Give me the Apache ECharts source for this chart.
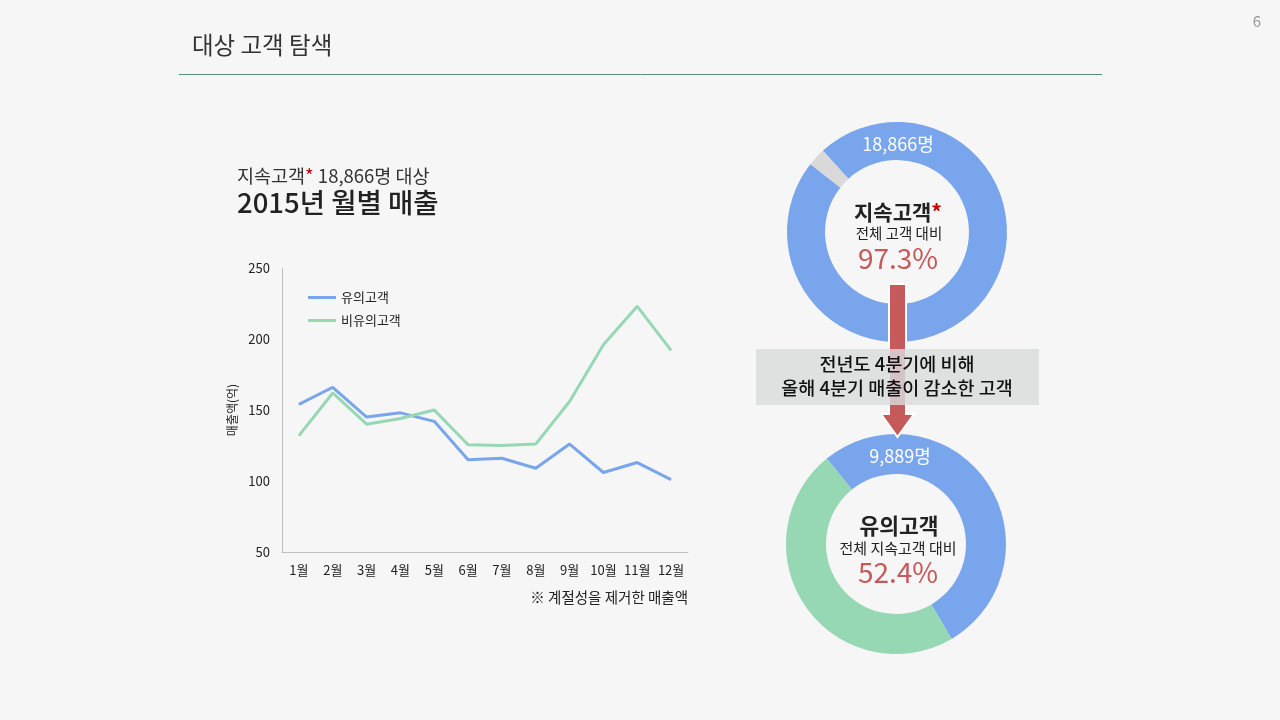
<!DOCTYPE html>
<html>
<head>
<meta charset="utf-8">
<script src="https://cdn.jsdelivr.net/npm/echarts@6/dist/echarts.min.js"></script>
<style>
html,body{margin:0;padding:0;background:#f6f6f6;}
#c{width:1280px;height:720px;}
</style>
</head>
<body>
<div id="c"></div>
<script>
var FONT = '"Noto Sans CJK KR", "Noto Sans", sans-serif';
var months = ['1월','2월','3월','4월','5월','6월','7월','8월','9월','10월','11월','12월'];
var significantSales = [154, 166, 145, 148, 142, 115, 116, 109, 126, 106, 113, 101];
var nonSignificantSales = [132, 162, 140, 144, 150, 125.5, 125, 126, 156, 196, 223, 192];
var seriesNames = ['유의고객', '비유의고객'];
var yTicks = {min: 50, max: 250, interval: 50};
var retainedShare = [{name: '이탈', value: 2.7}, {name: '지속고객', value: 97.3}];
var significantShare = [{name: '유의고객', value: 52.4}, {name: '비유의고객', value: 47.6}];
var retainedCount = '18,866명';
var significantCount = '9,889명';

var chart = echarts.init(document.getElementById('c'));
var red = '#c55a5a';
var blue = '#78a5eb';
var green = '#96d7b4';

function centerText(x, y, str, size, weight, color) {
  return {type: 'text', x: x, y: y, z: 50, style: {text: str, font: weight + ' ' + size + 'px ' + FONT, fill: color, align: 'center', verticalAlign: 'middle'}};
}

chart.setOption({
  backgroundColor: '#f6f6f6',
  textStyle: {fontFamily: FONT},
  animation: false,
  grid: {left: 282, right: 592, top: 268, bottom: 168},
  legend: {
    orient: 'vertical', left: 303, top: 286, itemWidth: 28, itemHeight: 3, itemGap: 10,
    icon: 'rect',
    data: seriesNames,
    textStyle: {fontSize: 13, color: '#222', fontFamily: FONT}
  },
  xAxis: {
    type: 'category', data: months, boundaryGap: true,
    axisLine: {lineStyle: {color: '#bfbfbf', width: 1}},
    axisTick: {show: false},
    axisLabel: {color: '#222', fontSize: 13, margin: 12, fontFamily: FONT, interval: 0}
  },
  yAxis: {
    type: 'value', min: yTicks.min, max: yTicks.max, interval: yTicks.interval,
    name: '매출액(억)', nameLocation: 'middle', nameRotate: 90, nameGap: 44,
    nameTextStyle: {fontSize: 12, color: '#222', fontFamily: FONT},
    axisLine: {show: true, lineStyle: {color: '#bfbfbf', width: 1}},
    axisTick: {show: false},
    splitLine: {show: false},
    axisLabel: {color: '#222', fontSize: 13, margin: 12, fontFamily: FONT}
  },
  series: [
    {name: seriesNames[0], type: 'line', data: significantSales, symbol: 'none', lineStyle: {color: blue, width: 3}, itemStyle: {color: blue}},
    {name: seriesNames[1], type: 'line', data: nonSignificantSales, symbol: 'none', lineStyle: {color: green, width: 3}, itemStyle: {color: green}},
    {
      type: 'pie', center: [897, 232], radius: [72, 110], startAngle: 142, clockwise: true,
      label: {show: false}, labelLine: {show: false}, silent: true,
      data: retainedShare,
      color: ['#d9d9d9', blue]
    },
    {
      type: 'pie', center: [896, 544], radius: [70, 110], startAngle: 129, clockwise: true,
      label: {show: false}, labelLine: {show: false}, silent: true,
      data: significantShare,
      color: [blue, green]
    }
  ],
  graphic: [
    {type: 'text', x: 192, y: 45, style: {text: '대상 고객 탐색', font: '400 23.5px ' + FONT, fill: '#333', verticalAlign: 'middle'}},
    {type: 'line', shape: {x1: 179, y1: 74.5, x2: 1102, y2: 74.5}, style: {stroke: '#5a8c7c', lineWidth: 1}},
    {type: 'text', x: 1257, y: 21, style: {text: '6', font: '400 15px ' + FONT, fill: '#999', align: 'center', verticalAlign: 'middle'}},
    {type: 'text', x: 237, y: 176, style: {
      text: '{a|지속고객}{r|*}{a| 18,866명 대상}', verticalAlign: 'middle',
      rich: {a: {fontSize: 18.5, fontFamily: FONT, fill: '#333'}, r: {fontSize: 18.5, fontFamily: FONT, fill: '#c00000'}}
    }},
    {type: 'text', x: 237, y: 203, style: {text: '2015년 월별 매출', font: '500 27.5px ' + FONT, fill: '#222', verticalAlign: 'middle'}},
    {type: 'text', x: 688, y: 597, style: {text: '※ 계절성을 제거한 매출액', font: '400 14.5px ' + FONT, fill: '#222', align: 'right', verticalAlign: 'middle'}},
    // donut 1 texts
    centerText(898, 144, retainedCount, 18, 400, '#ffffff'),
    {type: 'text', x: 898, y: 212, z: 50, style: {
      text: '{a|지속고객}{r|*}', align: 'center', verticalAlign: 'middle',
      rich: {a: {fontSize: 21, fontWeight: 'bold', fontFamily: FONT, fill: '#222'}, r: {fontSize: 21, fontWeight: 'bold', fontFamily: FONT, fill: '#c00000'}}
    }},
    centerText(899, 233, '전체 고객 대비', 14.5, 400, '#222'),
    centerText(898, 258, '97.3%', 28, 400, red),
    // donut 2 texts
    centerText(900, 456, significantCount, 18, 400, '#ffffff'),
    centerText(899, 526, '유의고객', 21.5, 'bold', '#222'),
    centerText(898, 548, '전체 지속고객 대비', 15, 400, '#222'),
    centerText(898, 572, '52.4%', 28, 400, red),
    // arrow
    {type: 'polygon', z: 60, shape: {points: [[889, 284], [906, 284], [906, 414], [914, 414], [897.5, 437], [881, 414], [889, 414]]},
      style: {fill: red, stroke: '#ffffff', lineWidth: 2}},
    {type: 'rect', z: 70, shape: {x: 756, y: 349, width: 283, height: 56}, style: {fill: 'rgba(217,218,218,0.82)'}},
    {type: 'text', z: 80, x: 897, y: 364, style: {text: '전년도 4분기에 비해', font: '500 18.5px ' + FONT, fill: '#111', align: 'center', verticalAlign: 'middle'}},
    {type: 'text', z: 80, x: 897, y: 388, style: {text: '올해 4분기 매출이 감소한 고객', font: '500 18.5px ' + FONT, fill: '#111', align: 'center', verticalAlign: 'middle'}}
  ]
});
</script>
</body>
</html>
